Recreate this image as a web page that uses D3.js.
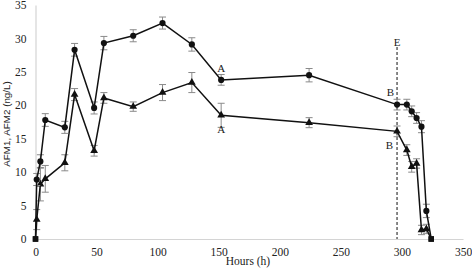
<!DOCTYPE html>
<html>
<head>
<meta charset="utf-8">
<script src="https://cdn.jsdelivr.net/npm/d3@7"></script>
<style>
  body { margin: 0; background: #fff; }
  svg text { font-family: "Liberation Serif", "DejaVu Serif", serif; fill: #222; }
</style>
</head>
<body>
<script>
// sampling times (h)
var hours = [0, 1, 4, 8, 24, 32, 48, 56, 80, 104, 128, 152, 224, 296, 304, 308, 312, 316, 320, 324];

// AFM1 (circles) and AFM2 (triangles), ng/L
var afm1 = [0, 8.9, 11.6, 17.8, 16.7, 28.3, 19.6, 29.3, 30.4, 32.3, 29.1, 23.8, 24.5, 20.1, 20.1, 19.1, 18.1, 16.8, 4.2, 0];
var afm1Err = [0, 0.9, 1.0, 0.95, 0.9, 0.95, 0.9, 1.0, 0.9, 0.9, 1.0, 0.8, 1.0, 0.8, 0.8, 0.8, 0.8, 0.9, 1.0, 0];
var afm2 = [0, 2.9, 8.2, 9.0, 11.4, 21.6, 13.2, 21.1, 19.8, 21.9, 23.4, 18.5, 17.4, 16.1, 13.3, 10.8, 11.3, 1.35, 1.5, 0];
var afm2Err = [0, 1.5, 2.5, 2.0, 1.2, 0.9, 0.8, 0.8, 0.7, 1.2, 1.5, 1.8, 0.75, 0.8, 0.8, 0.8, 0.7, 0.7, 0.7, 0];

var xTicks = [0, 50, 100, 150, 200, 250, 300, 350];
var yTicks = [0, 5, 10, 15, 20, 25, 30, 35];

// point annotations: [hour, value, letter, side]
var notes = [
  [152, 23.8, "A", "above"],
  [152, 18.5, "A", "below"],
  [296, 20.1, "B", "left"],
  [296, 16.1, "B", "leftbelow"]
];
var markerHour = 296;

var width = 472, height = 276;

var x = d3.scaleLinear().domain([0, 350]).range([35.5, 463]);
var y = d3.scaleLinear().domain([0, 35]).range([239, 5]);

var svg = d3.select("body").append("svg")
    .attr("width", width)
    .attr("height", height);

// axes lines (light grey, no ticks)
var xAxis = d3.axisBottom(x).tickValues(xTicks).tickSize(0).tickPadding(9);
var yAxis = d3.axisLeft(y).tickValues(yTicks).tickSize(0).tickPadding(9);

var gx = svg.append("g")
    .attr("transform", "translate(0," + y(0) + ")")
    .call(xAxis);
gx.attr("font-family", null);
gx.select(".domain").attr("stroke", "#d4d4d4").attr("stroke-width", 1.2);
gx.selectAll("text").style("font-size", "11.5px").attr("fill", "#222");

var gy = svg.append("g")
    .attr("transform", "translate(" + x(0) + ",0)")
    .call(yAxis);
gy.attr("font-family", null);
gy.select(".domain").attr("stroke", "#d4d4d4").attr("stroke-width", 1.2);
gy.selectAll("text").style("font-size", "11.5px").attr("fill", "#222");

svg.append("text")
    .attr("x", 248)
    .attr("y", 265)
    .attr("text-anchor", "middle")
    .style("font-size", "11.5px")
    .text("Hours (h)");

svg.append("text")
    .attr("transform", "translate(10,124) rotate(-90)")
    .attr("text-anchor", "middle")
    .style("font-family", "Liberation Sans")
    .style("font-size", "9.8px")
    .text("AFM1, AFM2 (ng/L)");

// dashed E line
svg.append("line")
    .attr("x1", x(markerHour)).attr("x2", x(markerHour))
    .attr("y1", 47).attr("y2", y(0))
    .attr("stroke", "#111")
    .attr("stroke-width", 1)
    .attr("stroke-dasharray", "3,2");
svg.append("text")
    .attr("x", x(markerHour))
    .attr("y", 46)
    .attr("text-anchor", "middle")
    .style("font-size", "11px")
    .text("E");

function drawSeries(vals, errs, shape) {
  var pts = hours.map(function(h, i) { return {h: h, v: vals[i], e: errs[i]}; });
  var g = svg.append("g");

  // error bars
  var eb = g.selectAll(".err").data(pts.filter(function(d) { return d.e > 0; }))
    .enter().append("g").attr("stroke", "#8a8a8a").attr("stroke-width", 1);
  eb.append("line")
    .attr("x1", function(d) { return x(d.h); }).attr("x2", function(d) { return x(d.h); })
    .attr("y1", function(d) { return y(d.v + d.e); }).attr("y2", function(d) { return y(d.v - d.e); });
  eb.append("line")
    .attr("x1", function(d) { return x(d.h) - 3.5; }).attr("x2", function(d) { return x(d.h) + 3.5; })
    .attr("y1", function(d) { return y(d.v + d.e); }).attr("y2", function(d) { return y(d.v + d.e); });
  eb.append("line")
    .attr("x1", function(d) { return x(d.h) - 3.5; }).attr("x2", function(d) { return x(d.h) + 3.5; })
    .attr("y1", function(d) { return y(d.v - d.e); }).attr("y2", function(d) { return y(d.v - d.e); });

  var line = d3.line()
    .x(function(d) { return x(d.h); })
    .y(function(d) { return y(d.v); });
  g.append("path")
    .datum(pts)
    .attr("d", line)
    .attr("fill", "none")
    .attr("stroke", "#111")
    .attr("stroke-width", 1.5);

  var sym = shape === "circle" ? d3.symbolCircle : d3.symbolTriangle;
  g.selectAll(".pt").data(pts)
    .enter().append("path")
    .attr("transform", function(d) { return "translate(" + x(d.h) + "," + y(d.v) + ")"; })
    .attr("d", function(d) {
      if (d.v === 0) return d3.symbol().type(d3.symbolSquare).size(30)();
      return d3.symbol().type(sym).size(shape === "circle" ? 30 : 26)();
    })
    .attr("fill", "#111");
}

drawSeries(afm2, afm2Err, "triangle");
drawSeries(afm1, afm1Err, "circle");

// letters
svg.selectAll(".note").data(notes)
  .enter().append("text")
  .attr("x", function(d) {
    if (d[3] === "left") return x(d[0]) - 3;
    if (d[3] === "leftbelow") return x(d[0]) - 4;
    return x(d[0]);
  })
  .attr("y", function(d) {
    if (d[3] === "above") return y(d[1]) - 8;
    if (d[3] === "below") return y(d[1]) + 18;
    if (d[3] === "left") return y(d[1]) - 9;
    return y(d[1]) + 18;
  })
  .attr("text-anchor", function(d) { return (d[3] === "left" || d[3] === "leftbelow") ? "end" : "middle"; })
  .style("font-size", "11px")
  .text(function(d) { return d[2]; });
</script>
</body>
</html>
